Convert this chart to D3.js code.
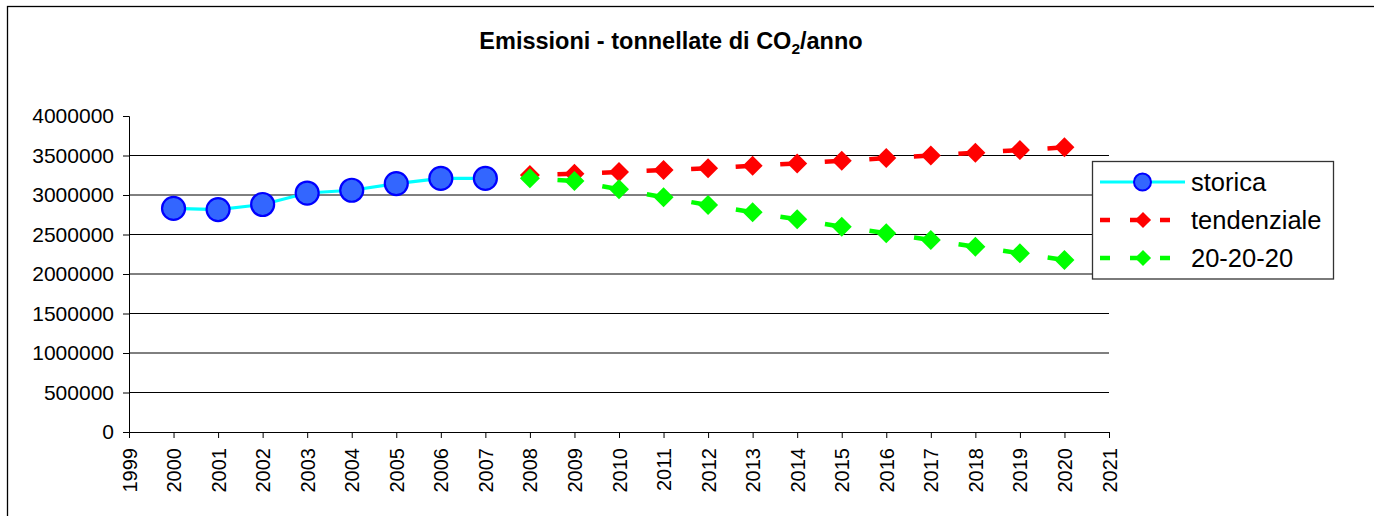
<!DOCTYPE html>
<html>
<head>
<meta charset="utf-8">
<script src="https://cdn.jsdelivr.net/npm/d3@7"></script>
<style>
  html, body { margin: 0; padding: 0; background: #fff; }
  svg { display: block; font-family: "Liberation Sans", Arial, sans-serif; }
</style>
</head>
<body>
<svg id="chart" width="1374" height="516"></svg>
<script>
// ---- data ----
const storicaYears = [2000, 2001, 2002, 2003, 2004, 2005, 2006, 2007];
const storicaValues = [2830000, 2815000, 2880000, 3025000, 3060000, 3145000, 3210000, 3210000];
const scenarioYears = [2008, 2009, 2010, 2011, 2012, 2013, 2014, 2015, 2016, 2017, 2018, 2019, 2020];
const tendenzialeValues = [3253000, 3268000, 3290000, 3315000, 3338000, 3370000, 3400000, 3433000, 3467000, 3500000, 3535000, 3569000, 3603000];
const ventiValues = [3211000, 3178000, 3072000, 2971000, 2873000, 2781000, 2692000, 2599000, 2515000, 2430000, 2346000, 2262000, 2177000];
const yTicks = [0, 500000, 1000000, 1500000, 2000000, 2500000, 3000000, 3500000, 4000000];
const xTicks = d3.range(1999, 2022);
const seriesNames = ["storica", "tendenziale", "20-20-20"];

const svg = d3.select("#chart");

// outer frame
svg.append("rect").attr("x", 7.5).attr("y", 6.5).attr("width", 2000).attr("height", 2000)
  .attr("fill", "none").attr("stroke", "#000").attr("stroke-width", 1.3);

// title
const title = svg.append("text").attr("x", 671).attr("y", 49).attr("text-anchor", "middle")
  .attr("font-weight", "bold").attr("font-size", 23.5).attr("fill", "#000");
title.append("tspan").text("Emissioni - tonnellate di CO");
title.append("tspan").attr("font-size", 15.5).attr("dy", 5).text("2");
title.append("tspan").attr("dy", -5).text("/anno");

const x = d3.scaleLinear().domain([1999, 2021]).range([129, 1109]);
const y = d3.scaleLinear().domain([0, 4000000]).range([432, 116]);

// gridlines
svg.append("g").selectAll("line").data(yTicks.filter(d => d > 0 && d < 4000000)).join("line")
  .attr("x1", x(1999)).attr("x2", x(2021))
  .attr("y1", d => y(d)).attr("y2", d => y(d))
  .attr("stroke", "#000").attr("stroke-width", 1);

// y axis
const yAxis = svg.append("g").attr("transform", `translate(${x(1999)},0)`)
  .call(d3.axisLeft(y).tickValues(yTicks).tickFormat(d3.format("d")).tickSize(6).tickPadding(9));
yAxis.selectAll("text").attr("font-size", 21).attr("fill", "#000").attr("font-family", "Liberation Sans, Arial, sans-serif");
yAxis.selectAll("line, path").attr("stroke", "#000");

// x axis
const xAxis = svg.append("g").attr("transform", `translate(0,${y(0)})`)
  .call(d3.axisBottom(x).tickValues(xTicks).tickFormat(d3.format("d")).tickSize(6).tickSizeOuter(0));
xAxis.selectAll("line, path").attr("stroke", "#000");
xAxis.selectAll("text")
  .attr("font-size", 20).attr("fill", "#000").attr("font-family", "Liberation Sans, Arial, sans-serif")
  .attr("transform", "rotate(-90)")
  .attr("text-anchor", "end")
  .attr("x", -16).attr("y", 0).attr("dy", "0.35em");

// storica series
const storica = storicaYears.map((yr, i) => ({ yr, v: storicaValues[i] }));
svg.append("path").datum(storica)
  .attr("d", d3.line().x(d => x(d.yr)).y(d => y(d.v)))
  .attr("fill", "none").attr("stroke", "#00FFFF").attr("stroke-width", 3.2);
svg.append("g").selectAll("circle").data(storica).join("circle")
  .attr("cx", d => x(d.yr)).attr("cy", d => y(d.v)).attr("r", 11.5)
  .attr("fill", "#3366FF").attr("stroke", "#0000FF").attr("stroke-width", 2.2);

// dashed scenario series: one dash leading into each marker
function scenario(values, color) {
  const pts = scenarioYears.map((yr, i) => ({ yr, v: values[i] }));
  const g = svg.append("g");
  const segs = d3.pairs(pts);
  g.selectAll("path").data(segs).join("path")
    .attr("d", s => d3.line().x(d => x(d.yr)).y(d => y(d.v))(s))
    .attr("fill", "none").attr("stroke", color).attr("stroke-width", 4.5)
    .attr("stroke-dasharray", function () {
      const L = this.getTotalLength();
      return `0 ${L - 17} 17 100`;
    });
  const diamond = d3.symbol().type(d3.symbolSquare).size(200);
  g.selectAll(".mk").data(pts).join("path").attr("class", "mk")
    .attr("d", diamond)
    .attr("transform", d => `translate(${x(d.yr)},${y(d.v)}) rotate(45)`)
    .attr("fill", color);
}
scenario(tendenzialeValues, "#FF0000");
scenario(ventiValues, "#00FF00");

// legend
const lg = svg.append("g");
lg.append("rect").attr("x", 1092.5).attr("y", 161.5).attr("width", 241).attr("height", 117.5)
  .attr("fill", "#fff").attr("stroke", "#333").attr("stroke-width", 1.3);
const rowsY = [182, 220, 258];
// storica row
lg.append("line").attr("x1", 1100).attr("x2", 1185).attr("y1", rowsY[0]).attr("y2", rowsY[0])
  .attr("stroke", "#00FFFF").attr("stroke-width", 3.2);
lg.append("circle").attr("cx", 1142.5).attr("cy", rowsY[0]).attr("r", 8.5)
  .attr("fill", "#3366FF").attr("stroke", "#0000FF").attr("stroke-width", 2);
// scenario rows
[["#FF0000", rowsY[1]], ["#00FF00", rowsY[2]]].forEach(([c, yy]) => {
  lg.append("line").attr("x1", 1100).attr("x2", 1170).attr("y1", yy).attr("y2", yy)
    .attr("stroke", c).attr("stroke-width", 4.5).attr("stroke-dasharray", "10 20");
  lg.append("path").attr("d", d3.symbol().type(d3.symbolSquare).size(130))
    .attr("transform", `translate(1143,${yy}) rotate(45)`).attr("fill", c);
});
lg.selectAll(".lt").data(seriesNames).join("text").attr("class", "lt")
  .attr("x", 1191).attr("y", (d, i) => rowsY[i]).attr("dy", "0.36em")
  .attr("font-size", 25.5).attr("fill", "#000").text(d => d);
</script>
</body>
</html>
